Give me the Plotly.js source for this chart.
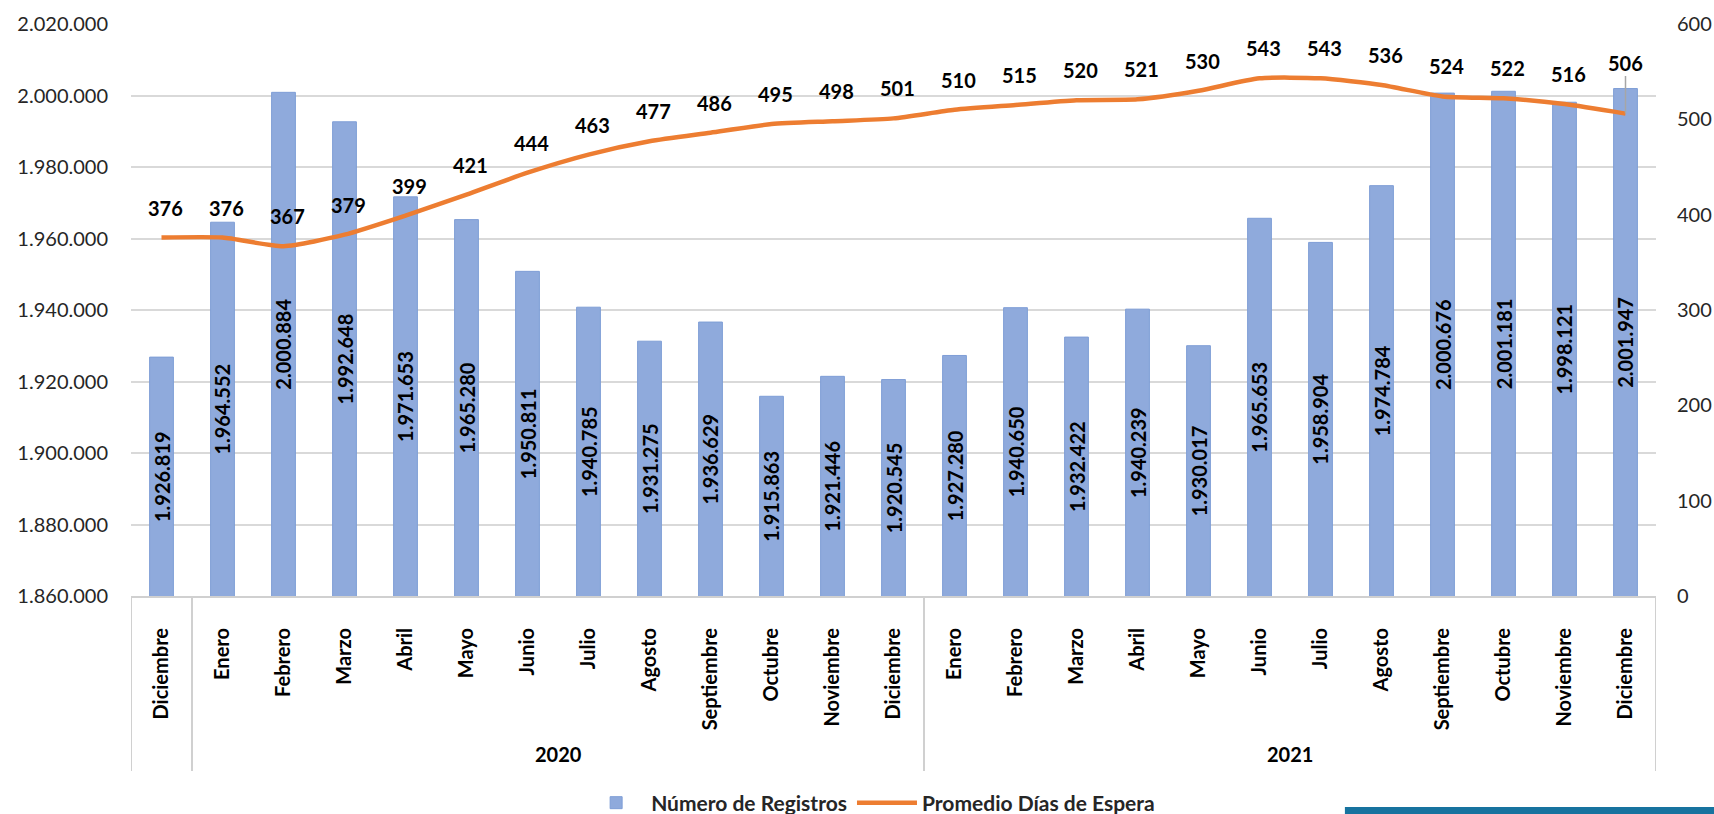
<!DOCTYPE html>
<html>
<head>
<meta charset="utf-8">
<script src="https://cdn.plot.ly/plotly-3.0.1.min.js"></script>
<style>html,body{margin:0;padding:0;background:#fff;}#chart{width:1714px;height:814px;}</style>
</head>
<body>
<div id="chart"></div>
<script>
const years = ['', '2020','2020','2020','2020','2020','2020','2020','2020','2020','2020','2020','2020',
  '2021','2021','2021','2021','2021','2021','2021','2021','2021','2021','2021','2021'];
const months = ['Diciembre','Enero','Febrero','Marzo','Abril','Mayo','Junio','Julio','Agosto','Septiembre','Octubre','Noviembre','Diciembre',
  'Enero','Febrero','Marzo','Abril','Mayo','Junio','Julio','Agosto','Septiembre','Octubre','Noviembre','Diciembre'];
const registros = [1926819,1964552,2000884,1992648,1971653,1965280,1950811,1940785,1931275,1936629,1915863,1921446,1920545,
  1927280,1940650,1932422,1940239,1930017,1965653,1958904,1974784,2000676,2001181,1998121,2001947];
const promedioDias = [376,376,367,379,399,421,444,463,477,486,495,498,501,
  510,515,520,521,530,543,543,536,524,522,516,506];

const Y_RANGE = [1860000, 2020000];
const Y2_RANGE = [0, 600];

function fmtMiles(v){ return String(v).replace(/\B(?=(\d{3})+(?!\d))/g, '.'); }

const FONT = 'Lato, "Open Sans", sans-serif';
const idx = months.map((m, i) => i);

const bars = {
  type: 'bar', name: 'Número de Registros',
  x: idx, y: registros, width: 0.39,
  marker: {color: '#8faadc', line: {color: '#7f9ed6', width: 1}},
  hoverinfo: 'skip'
};
const line = {
  type: 'scatter', mode: 'lines', name: 'Promedio Días de Espera',
  x: idx, y: promedioDias, yaxis: 'y2',
  line: {color: '#ed7d31', width: 4.5, shape: 'spline', smoothing: 0.6},
  hoverinfo: 'skip'
};

const annotations = [];
// bar value labels, centred in the visible part of each bar
registros.forEach((v, i) => {
  annotations.push({xref: 'x', yref: 'y', x: i, y: (v + Y_RANGE[0]) / 2,
    text: fmtMiles(v), textangle: -90, showarrow: false,
    font: {family: FONT, size: 20, color: '#000', weight: 'bold'}});
});
// line value labels
const last = promedioDias.length - 1;
promedioDias.forEach((v, i) => {
  const a = {
    xref: 'x', yref: 'y2', x: i, y: v, text: String(v),
    font: {family: FONT, size: 20, color: '#000', weight: 'bold'},
    showarrow: false, yshift: 30, xshift: 4
  };
  if (i === last) {
    a.showarrow = true; a.arrowhead = 0; a.ax = 0; a.ay = -51;
    a.arrowcolor = '#a6a6a6'; a.arrowwidth = 1.5; a.yshift = 0; a.xshift = 0;
    a.standoff = 0;
  }
  annotations.push(a);
});

// year groups: labels and dividers from the years array
const shapes = [];
const DIV_BOTTOM = -0.306;
let start = 0;
for (let i = 1; i <= years.length; i++) {
  if (i === years.length || years[i] !== years[start]) {
    if (years[start] !== '') {
      annotations.push({xref: 'x', yref: 'paper', x: (start + i - 1) / 2, y: -0.276,
        yanchor: 'middle', showarrow: false, text: years[start],
        font: {family: FONT, size: 20, color: '#000', weight: 'bold'}});
    }
    shapes.push({type: 'line', xref: 'x', yref: 'paper', x0: start - 0.5, x1: start - 0.5,
      y0: 0, y1: DIV_BOTTOM, line: {color: '#d0d0d0', width: 2}});
    start = i;
  }
}
shapes.push({type: 'line', xref: 'x', yref: 'paper', x0: years.length - 0.5, x1: years.length - 0.5,
  y0: 0, y1: DIV_BOTTOM, line: {color: '#d0d0d0', width: 2}});
shapes.push({type: 'rect', xref: 'paper', yref: 'paper', x0: 0.796, x1: 1.05, y0: -0.369, y1: -0.385,
  fillcolor: '#17739f', line: {width: 0}});

const layout = {
  width: 1714, height: 814,
  margin: {l: 131, r: 58, t: 24, b: 218, autoexpand: false},
  paper_bgcolor: '#fff', plot_bgcolor: '#fff',
  separators: ',.',
  font: {family: FONT, color: '#262626'},
  showlegend: true,
  legend: {orientation: 'h', x: 0.485, xanchor: 'center', yref: 'container', y: 0.0135, yanchor: 'middle',
    font: {family: FONT, size: 21, color: '#262626', weight: 'bold'}, traceorder: 'normal',
    itemwidth: 60},
  xaxis: {
    range: [-0.5, years.length - 0.5], tickmode: 'array', tickvals: idx, ticktext: months,
    tickangle: -90, ticklabelstandoff: 22, automargin: false,
    tickfont: {family: FONT, size: 20, color: '#000', weight: 'bold'},
    showline: true, linecolor: '#d0d0d0', linewidth: 2,
    ticks: '', showgrid: false, zeroline: false, fixedrange: true
  },
  yaxis: {
    range: Y_RANGE, dtick: 20000, tickformat: ',d', automargin: false,
    showgrid: true, gridcolor: '#d9d9d9', gridwidth: 2,
    zeroline: false, ticks: '', ticklabelstandoff: 22,
    tickfont: {family: FONT, size: 20, color: '#262626'}
  },
  yaxis2: {
    range: Y2_RANGE, dtick: 100, overlaying: 'y', side: 'right', automargin: false,
    showgrid: false, zeroline: false, ticks: '', ticklabelstandoff: 20,
    tickfont: {family: FONT, size: 20, color: '#262626'}
  },
  annotations: annotations,
  shapes: shapes
};

Plotly.newPlot('chart', [bars, line], layout, {displayModeBar: false});
</script>
</body>
</html>
